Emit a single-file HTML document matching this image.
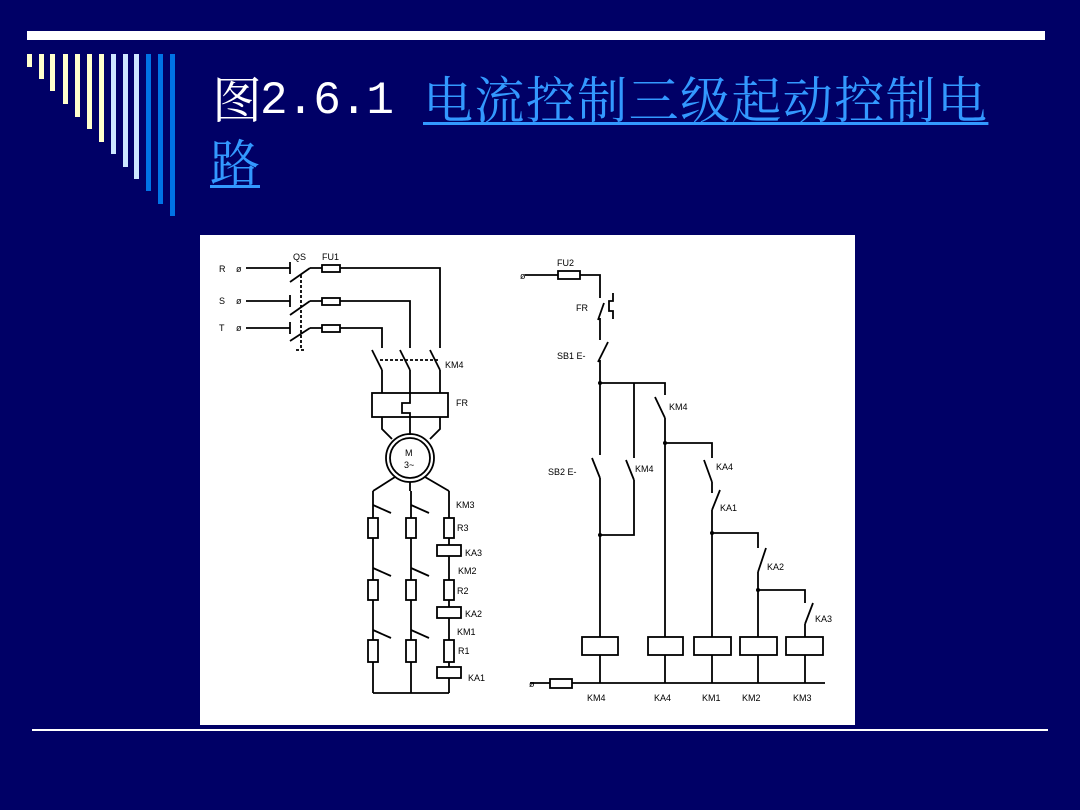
<!DOCTYPE html>
<html><head><meta charset="utf-8"><style>
html,body{margin:0;padding:0}
body{width:1080px;height:810px;background:#000066;position:relative;overflow:hidden;font-family:"Liberation Serif","Noto Serif CJK SC",serif}
.bar{position:absolute;top:54px;width:5px}
.t{position:absolute;font-size:50px;line-height:50px;white-space:nowrap;font-family:"Liberation Serif","Noto Serif CJK SC",serif}
.lnk{color:#3399ff;text-decoration:underline;text-decoration-thickness:3px;text-underline-offset:4px}
</style></head><body>
<div style="position:absolute;left:27px;top:31px;width:1018px;height:9px;background:#fff"></div>
<div class="bar" style="left:27px;height:13px;background:#ffffcc"></div>
<div class="bar" style="left:39px;height:25px;background:#ffffcc"></div>
<div class="bar" style="left:50px;height:37px;background:#ffffcc"></div>
<div class="bar" style="left:63px;height:50px;background:#ffffcc"></div>
<div class="bar" style="left:75px;height:63px;background:#ffffcc"></div>
<div class="bar" style="left:87px;height:75px;background:#ffffcc"></div>
<div class="bar" style="left:99px;height:88px;background:#ffffcc"></div>
<div class="bar" style="left:111px;height:100px;background:#cce6ff"></div>
<div class="bar" style="left:123px;height:113px;background:#cce6ff"></div>
<div class="bar" style="left:134px;height:125px;background:#cce6ff"></div>
<div class="bar" style="left:146px;height:137px;background:#0073e6"></div>
<div class="bar" style="left:158px;height:150px;background:#0073e6"></div>
<div class="bar" style="left:170px;height:162px;background:#0073e6"></div>

<div class="t" style="left:212px;top:76px;color:#fff">图</div>
<div class="t" style="left:260px;top:76px;color:#fff;font-family:'Liberation Mono',monospace;font-size:46px;letter-spacing:-1px">2.6.1</div>
<div class="t lnk" style="left:423px;top:76px;letter-spacing:1.4px">电流控制三级起动控制电</div>
<div class="t lnk" style="left:210px;top:139px">路</div>

<div style="position:absolute;left:32px;top:729px;width:1016px;height:2px;background:#fff"></div>

<svg style="position:absolute;left:0;top:0" width="1080" height="810" viewBox="0 0 1080 810">
<rect x="200" y="235" width="655" height="490" fill="#fff"/>
<g stroke="#000" stroke-width="1.8" fill="none">
<path d="M246 268H290M246 301H290M246 328H290"/>
<path d="M290 262v12M290 295v12M290 322v12"/>
<path d="M290 282L310 268M290 315L310 301M290 341L310 328" />
<path d="M301 275V350M296 350h10" stroke-dasharray="3,2"/>
<path d="M310 268h12M310 301h12M310 328h12"/>
<rect x="322" y="265" width="18" height="7"/><rect x="322" y="298" width="18" height="7"/><rect x="322" y="325" width="18" height="7"/>
<path d="M340 268H440V348M340 301H410V348M340 328H382V348"/>
<path d="M372 350L382 370M400 350L410 370M430 350L440 370"/>
<path d="M380 360H440" stroke-dasharray="3,2"/>
<path d="M382 370V393M410 370V393M440 370V393"/>
<rect x="372" y="393" width="76" height="24"/>
<path d="M410 393v10h-8v10h8v22M382 417v12l10 10M440 417v12l-10 10"/>
<circle cx="410" cy="458" r="24"/><circle cx="410" cy="458" r="20"/>
<path d="M395 477l-22 14M410 482v9M425 477l24 14"/>
<path d="M373 491V693M411 491V693M449 491V693M373 693H449"/>
<path d="M373 505l18 8M411 505l18 8M373 568l18 8M411 568l18 8M373 630l18 8M411 630l18 8"/>
<rect x="368" y="518" width="10" height="20" fill="#fff"/><rect x="406" y="518" width="10" height="20" fill="#fff"/><rect x="444" y="518" width="10" height="20" fill="#fff"/>
<rect x="437" y="545" width="24" height="11" fill="#fff"/>
<rect x="368" y="580" width="10" height="20" fill="#fff"/><rect x="406" y="580" width="10" height="20" fill="#fff"/><rect x="444" y="580" width="10" height="20" fill="#fff"/>
<rect x="437" y="607" width="24" height="11" fill="#fff"/>
<rect x="368" y="640" width="10" height="22" fill="#fff"/><rect x="406" y="640" width="10" height="22" fill="#fff"/><rect x="444" y="640" width="10" height="22" fill="#fff"/>
<rect x="437" y="667" width="24" height="11" fill="#fff"/>
<path d="M525 275H558M580 275H600V298M604 303L598 320M600 318V340M608 342L598 362M600 360V383"/>
<rect x="558" y="271" width="22" height="8"/>
<path d="M613 293v8h-4v10h4v8" />
<path d="M600 383H665V395M655 397L665 418M665 418V600"/>
<path d="M600 383V455M592 458L600 478M600 478V535M634 383V458M626 460L634 480M634 480V535H600M600 535V637"/>
<path d="M665 443H712V458M704 460L712 482M712 482V493M720 490L712 510M712 510V637"/>
<path d="M712 533H758V548M766 548L758 572M758 572V637"/>
<path d="M758 590H805V603M813 603L805 624M805 624V637"/>
<path d="M665 600V637"/>
<rect x="582" y="637" width="36" height="18"/><rect x="648" y="637" width="35" height="18"/><rect x="694" y="637" width="37" height="18"/><rect x="740" y="637" width="37" height="18"/><rect x="786" y="637" width="37" height="18"/>
<path d="M600 655V683M665 655V683M712 655V683M758 655V683M805 655V683"/>
<path d="M530 683H550M572 683H825"/><rect x="550" y="679" width="22" height="9"/>
</g>
<g fill="#000" font-family="Liberation Sans,sans-serif" font-size="9">
<text x="219" y="272">R</text><text x="219" y="304">S</text><text x="219" y="331">T</text>
<text x="236" y="272">ø</text><text x="236" y="304">ø</text><text x="236" y="331">ø</text>
<text x="293" y="260">QS</text><text x="322" y="260">FU1</text>
<text x="445" y="368">KM4</text><text x="456" y="406">FR</text>
<text x="405" y="456">M</text><text x="404" y="468">3~</text>
<text x="456" y="508">KM3</text><text x="457" y="531">R3</text><text x="465" y="556">KA3</text>
<text x="458" y="574">KM2</text><text x="457" y="594">R2</text><text x="465" y="617">KA2</text>
<text x="457" y="635">KM1</text><text x="458" y="654">R1</text><text x="468" y="681">KA1</text>
<text x="520" y="279">ø</text><text x="557" y="266">FU2</text><text x="576" y="311">FR</text>
<text x="557" y="359">SB1 E-</text><text x="548" y="475">SB2 E-</text><text x="635" y="472">KM4</text>
<text x="669" y="410">KM4</text><text x="716" y="470">KA4</text><text x="720" y="511">KA1</text>
<text x="767" y="570">KA2</text><text x="815" y="622">KA3</text>
<text x="529" y="687">ø</text>
<text x="587" y="701">KM4</text><text x="654" y="701">KA4</text><text x="702" y="701">KM1</text><text x="742" y="701">KM2</text><text x="793" y="701">KM3</text>
</g>
<g fill="#000"><circle cx="600" cy="383" r="2"/><circle cx="600" cy="535" r="2"/><circle cx="665" cy="443" r="2"/><circle cx="712" cy="533" r="2"/><circle cx="758" cy="590" r="2"/></g>
</svg>
</body></html>
